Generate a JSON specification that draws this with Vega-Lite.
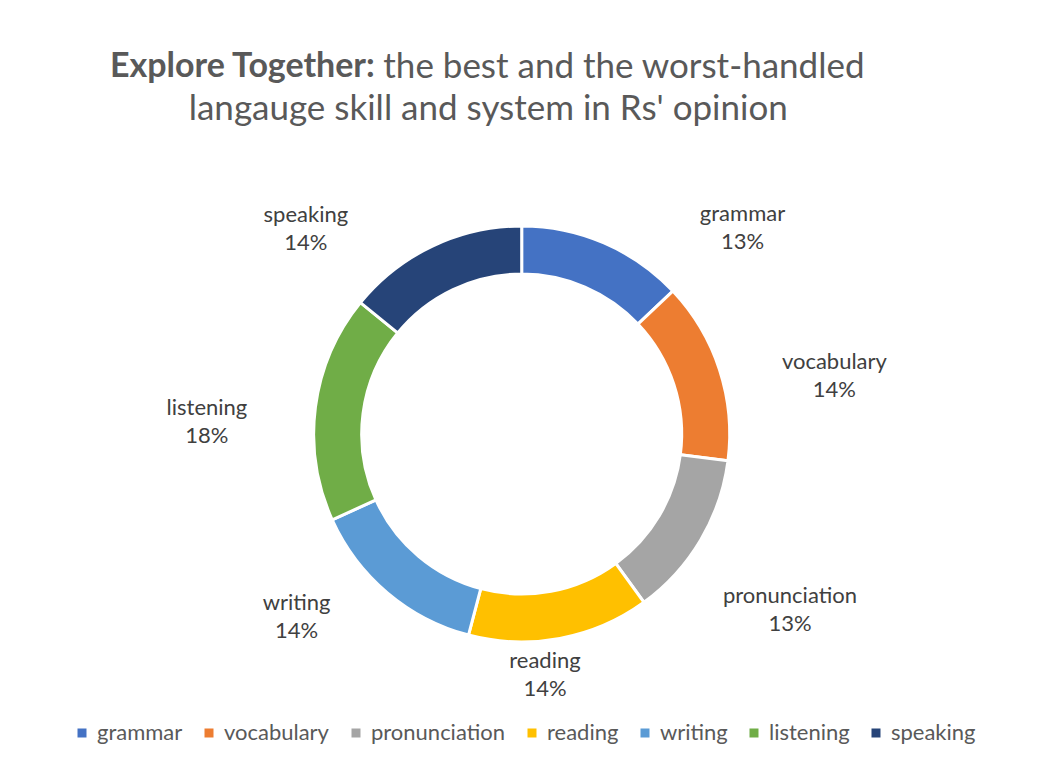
{
  "$schema": "https://vega.github.io/schema/vega-lite/v6.json",
  "autosize": {"type": "none"},
  "width": 1027.4,
  "height": 568,
  "padding": {"top": 150, "left": 8, "right": 5, "bottom": 53},
  "background": "white",
  "title": {
    "text": "Explore Together:",
    "subtitle": ["\u200B\u2003\u2003\u2003\u2003\u2003\u2003\u2003\u2003\u2003\u2003\u2009\u2009\u200Athe best and the worst-handled", "\u200B\u2003\u2003\u2003langauge skill and system in Rs' opinion"],
    "anchor": "start",
    "align": "left",
    "dx": 102,
    "font": "Lato",
    "fontSize": 34,
    "fontWeight": "bold",
    "color": "#595959",
    "subtitleFont": "Lato",
    "subtitleFontSize": 35,
    "subtitleFontWeight": "normal",
    "subtitleColor": "#595959",
    "subtitlePadding": -34,
    "subtitleLineHeight": 42,
    "offset": 23
  },
  "data": {
    "values": [
      {"skill": "grammar", "n": 22, "k": 1, "label": "grammar\n13%"},
      {"skill": "vocabulary", "n": 24, "k": 2, "label": "vocabulary\n14%"},
      {"skill": "pronunciation", "n": 22, "k": 3, "label": "pronunciation\n13%"},
      {"skill": "reading", "n": 24, "k": 4, "label": "reading\n14%"},
      {"skill": "writing", "n": 24, "k": 5, "label": "writing\n14%"},
      {"skill": "listening", "n": 30, "k": 6, "label": "listening\n18%"},
      {"skill": "speaking", "n": 24, "k": 7, "label": "speaking\n14%"}
    ]
  },
  "layer": [
    {
      "mark": {"type": "arc", "outerRadius": 208, "innerRadius": 160, "stroke": "white", "strokeWidth": 3},
      "encoding": {
        "theta": {"field": "n", "type": "quantitative", "stack": true},
        "order": {"field": "k", "type": "quantitative"},
        "color": {
          "field": "skill",
          "type": "nominal",
          "scale": {
            "domain": ["grammar", "vocabulary", "pronunciation", "reading", "writing", "listening", "speaking"],
            "range": ["#4472C4", "#ED7D31", "#A5A5A5", "#FFC000", "#5B9BD5", "#70AD47", "#264478"]
          },
          "legend": {
            "orient": "none",
            "legendX": 63,
            "legendY": 572,
            "direction": "horizontal",
            "title": null,
            "symbolType": "square",
            "symbolSize": 81,
            "symbolStrokeWidth": 0,
            "labelFont": "Lato",
            "labelFontSize": 22,
            "labelColor": "#595959",
            "columnPadding": 15,
            "labelOffset": 4
          }
        }
      }
    },
    {
      "transform": [
        {"stack": "n", "groupby": [], "sort": [{"field": "k"}], "as": ["a0", "a1"]},
        {"filter": "datum.skill == 'grammar'"}
      ],
      "mark": {"type": "text", "radius": 302, "thetaOffset": 0.820, "dy": -14, "font": "Lato", "fontSize": 22, "color": "#404040", "lineBreak": "\n", "lineHeight": 28, "align": "center", "baseline": "middle"},
      "encoding": {"theta": {"field": "a0", "type": "quantitative", "stack": null}, "text": {"field": "label"}}
    },
    {
      "transform": [
        {"stack": "n", "groupby": [], "sort": [{"field": "k"}], "as": ["a0", "a1"]},
        {"filter": "datum.skill == 'vocabulary'"}
      ],
      "mark": {"type": "text", "radius": 318, "thetaOffset": 0.575, "dy": -14, "font": "Lato", "fontSize": 22, "color": "#404040", "lineBreak": "\n", "lineHeight": 28, "align": "center", "baseline": "middle"},
      "encoding": {"theta": {"field": "a0", "type": "quantitative", "stack": null}, "text": {"field": "label"}}
    },
    {
      "transform": [
        {"stack": "n", "groupby": [], "sort": [{"field": "k"}], "as": ["a0", "a1"]},
        {"filter": "datum.skill == 'pronunciation'"}
      ],
      "mark": {"type": "text", "radius": 321, "thetaOffset": 0.452, "dy": -14, "font": "Lato", "fontSize": 22, "color": "#404040", "lineBreak": "\n", "lineHeight": 28, "align": "center", "baseline": "middle"},
      "encoding": {"theta": {"field": "a0", "type": "quantitative", "stack": null}, "text": {"field": "label"}}
    },
    {
      "transform": [
        {"stack": "n", "groupby": [], "sort": [{"field": "k"}], "as": ["a0", "a1"]},
        {"filter": "datum.skill == 'reading'"}
      ],
      "mark": {"type": "text", "radius": 242, "thetaOffset": 0.532, "dy": -14, "font": "Lato", "fontSize": 22, "color": "#404040", "lineBreak": "\n", "lineHeight": 28, "align": "center", "baseline": "middle"},
      "encoding": {"theta": {"field": "a0", "type": "quantitative", "stack": null}, "text": {"field": "label"}}
    },
    {
      "transform": [
        {"stack": "n", "groupby": [], "sort": [{"field": "k"}], "as": ["a0", "a1"]},
        {"filter": "datum.skill == 'writing'"}
      ],
      "mark": {"type": "text", "radius": 290, "thetaOffset": 0.630, "dy": -14, "font": "Lato", "fontSize": 22, "color": "#404040", "lineBreak": "\n", "lineHeight": 28, "align": "center", "baseline": "middle"},
      "encoding": {"theta": {"field": "a0", "type": "quantitative", "stack": null}, "text": {"field": "label"}}
    },
    {
      "transform": [
        {"stack": "n", "groupby": [], "sort": [{"field": "k"}], "as": ["a0", "a1"]},
        {"filter": "datum.skill == 'listening'"}
      ],
      "mark": {"type": "text", "radius": 315, "thetaOffset": 0.463, "dy": -14, "font": "Lato", "fontSize": 22, "color": "#404040", "lineBreak": "\n", "lineHeight": 28, "align": "center", "baseline": "middle"},
      "encoding": {"theta": {"field": "a0", "type": "quantitative", "stack": null}, "text": {"field": "label"}}
    },
    {
      "transform": [
        {"stack": "n", "groupby": [], "sort": [{"field": "k"}], "as": ["a0", "a1"]},
        {"filter": "datum.skill == 'speaking'"}
      ],
      "mark": {"type": "text", "radius": 298, "thetaOffset": 0.077, "dy": -14, "font": "Lato", "fontSize": 22, "color": "#404040", "lineBreak": "\n", "lineHeight": 28, "align": "center", "baseline": "middle"},
      "encoding": {"theta": {"field": "a0", "type": "quantitative", "stack": null}, "text": {"field": "label"}}
    }
  ],
  "config": {"view": {"stroke": null}}
}
